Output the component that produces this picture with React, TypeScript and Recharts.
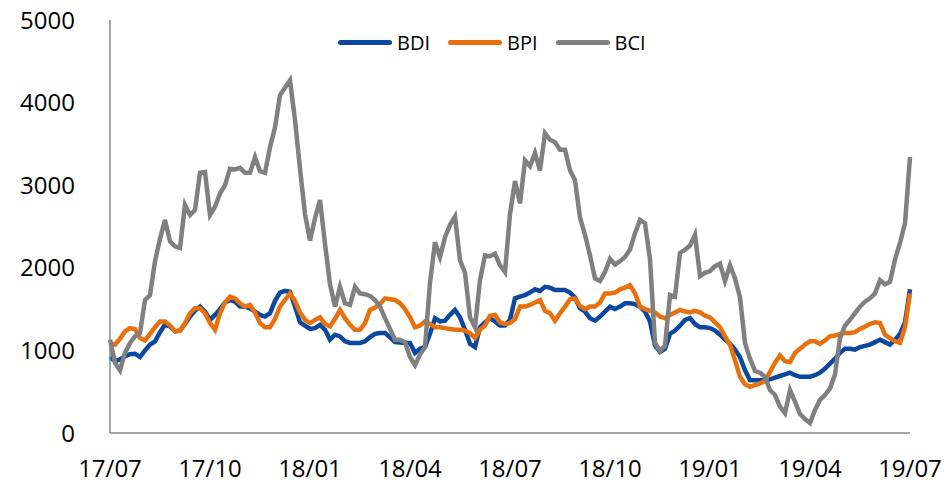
import { LineChart, Line, XAxis, YAxis } from "recharts"

// weekly-ish samples, 17/07 -> 19/07
const tickLabels = ["17/07", "17/10", "18/01", "18/04", "18/07", "18/10", "19/01", "19/04", "19/07"]
const yTicks = [0, 1000, 2000, 3000, 4000, 5000]

const bdi = [
  920, 870, 890, 930, 955, 960, 920, 1000, 1070, 1110,
  1220, 1310, 1290, 1230, 1240, 1320, 1410, 1480, 1530, 1470,
  1370, 1430, 1500, 1580, 1610, 1590, 1530, 1530, 1510, 1470,
  1430, 1410, 1450, 1600, 1700, 1720, 1710, 1530, 1340, 1300,
  1260, 1270, 1310, 1250, 1130, 1190, 1170, 1110, 1090, 1090,
  1090, 1110, 1160, 1200, 1210, 1210, 1160, 1100, 1095, 1090,
  1090, 970, 1020, 1040, 1200, 1390, 1350, 1360, 1430, 1490,
  1400, 1250, 1080, 1040, 1280, 1340, 1390, 1350, 1300, 1300,
  1370, 1630, 1650, 1670, 1700, 1740, 1720, 1770, 1760, 1730,
  1730, 1730, 1700, 1640, 1510, 1470, 1390, 1360, 1410, 1470,
  1530, 1500, 1530, 1570, 1570, 1560, 1530, 1470, 1350, 1060,
  980, 1020, 1200, 1240, 1300, 1370, 1390, 1320, 1280, 1280,
  1270, 1240, 1190, 1130, 1080, 1010, 920, 760, 640, 640,
  640, 640, 650, 670, 690, 710, 730, 700, 680, 680,
  680, 700, 730, 780, 840, 900, 970, 1020, 1020, 1010,
  1040, 1055, 1070, 1100, 1130, 1100, 1070, 1130, 1200, 1340,
  1740,
]

const bpi = [
  1090, 1070, 1140, 1230, 1270, 1260, 1150, 1120, 1200, 1280,
  1350, 1350, 1300, 1230, 1240, 1330, 1450, 1510, 1510, 1450,
  1330, 1250, 1450, 1580, 1650, 1630, 1570, 1530, 1550, 1460,
  1330, 1280, 1280, 1380, 1530, 1610, 1690, 1600, 1460, 1370,
  1330, 1370, 1400, 1320, 1290, 1380, 1490, 1390, 1310, 1250,
  1250, 1330, 1490, 1520, 1560, 1630, 1620, 1610, 1570, 1500,
  1400, 1280, 1300, 1350, 1320, 1280, 1280, 1270, 1260, 1250,
  1250, 1240, 1210, 1150, 1250, 1300, 1420, 1430, 1340, 1320,
  1330, 1380, 1530, 1530, 1550, 1580, 1610, 1480, 1450, 1360,
  1450, 1530, 1620, 1630, 1540, 1500, 1530, 1530, 1580, 1690,
  1690, 1700, 1740, 1760, 1790, 1690, 1530, 1500, 1480, 1460,
  1410, 1390, 1430, 1460, 1490, 1470, 1460, 1480, 1460, 1420,
  1400, 1340, 1280, 1170, 1070, 880, 680, 590, 560, 580,
  600, 630, 740, 850, 940, 870, 860, 970, 1020, 1070,
  1110, 1110, 1080, 1120, 1170, 1180, 1200, 1210, 1210, 1220,
  1260, 1290, 1320, 1340, 1330, 1190, 1150, 1110, 1090, 1280,
  1690,
]

const bci = [
  1130, 850, 760, 970, 1090, 1170, 1210, 1610, 1670, 2080,
  2350, 2580, 2320, 2260, 2240, 2760, 2640, 2700, 3150, 3160,
  2640, 2740, 2900, 3000, 3200, 3190, 3210, 3150, 3150, 3340,
  3170, 3150, 3460, 3700, 4090, 4180, 4270, 3790, 3200, 2650,
  2330, 2600, 2820, 2290, 1800, 1530, 1770, 1570, 1550, 1770,
  1690, 1680, 1660, 1610, 1530, 1390, 1260, 1130, 1130, 1100,
  920, 820, 950, 1040, 1820, 2310, 2130, 2370, 2520, 2620,
  2090, 1940, 1400, 1280, 1850, 2150, 2140, 2170, 2030, 1950,
  2650, 3050, 2780, 3300, 3230, 3390, 3180, 3630, 3550, 3520,
  3430, 3430, 3180, 3060, 2610, 2400, 2150, 1870, 1840, 1950,
  2110, 2040, 2080, 2130, 2220, 2420, 2580, 2540, 2100, 1090,
  990, 1060, 1670, 1650, 2180, 2220, 2270, 2400, 1900, 1940,
  1960, 2020, 2050, 1840, 2030, 1870, 1640, 1090, 900, 750,
  730, 680, 520, 460, 320, 240, 520, 380, 230, 170,
  120, 280, 400, 460, 540, 710, 1150, 1300, 1370, 1450,
  1530, 1590, 1630, 1690, 1850, 1800, 1830, 2100, 2300, 2540,
  3340,
]

const series = [
  { key: "BDI", color: "#0B48A0" },
  { key: "BPI", color: "#E8710E" },
  { key: "BCI", color: "#808080" },
]

const data = bdi.map((v, i) => ({ i, BDI: v, BPI: bpi[i], BCI: bci[i] }))
const xTicks = tickLabels.map((_, k) => k * 20)

const font = "'Open Sans', sans-serif"

export default function App() {
  return (
    <div style={{ position: "absolute", left: 0, top: 0, width: 948, height: 485, background: "#fff", fontFamily: font }}>
      <LineChart width={948} height={485} data={data} margin={{ top: 20, right: 38, left: 10, bottom: 2 }}>
        <XAxis
          dataKey="i"
          type="number"
          domain={[0, 160]}
          ticks={xTicks}
          tickFormatter={(v) => tickLabels[v / 20]}
          tick={{ fill: "#000", fontSize: 24, fontFamily: font }}
          tickLine={false}
          tickSize={0}
          tickMargin={27}
          height={50}
          stroke="#898989"
          strokeWidth={1.5}
          interval={0}
        />
        <YAxis
          domain={[0, 5000]}
          ticks={yTicks}
          tick={{ fill: "#000", fontSize: 24, fontFamily: font }}
          tickLine={false}
          tickSize={0}
          tickMargin={35}
          width={100}
          stroke="#898989"
          strokeWidth={1.5}
          interval={0}
        />
        {series.map((s) => (
          <Line
            key={s.key}
            dataKey={s.key}
            stroke={s.color}
            strokeWidth={4.5}
            dot={false}
            type="linear"
            isAnimationActive={false}
          />
        ))}
      </LineChart>
      <div style={{ position: "absolute", top: 29, left: 338, display: "flex", alignItems: "center", fontSize: 20, color: "#000" }}>
        {series.map((s) => (
          <div key={s.key} style={{ display: "flex", alignItems: "center", marginRight: 18 }}>
            <div style={{ width: 54, height: 5, borderRadius: 3, background: s.color, marginRight: 5 }} />
            <span>{s.key}</span>
          </div>
        ))}
      </div>
    </div>
  )
}
